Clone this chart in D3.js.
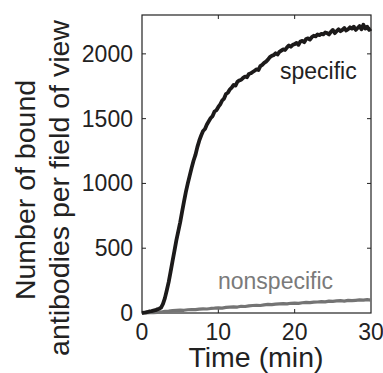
<!DOCTYPE html>
<html>
<head>
<meta charset="utf-8">
<script src="https://cdn.jsdelivr.net/npm/d3@7"></script>
<style>
  body { margin: 0; background: #fff; }
  text { font-family: "Liberation Sans", Arial, sans-serif; }
</style>
</head>
<body>
<script>
// time in minutes, specific curve sampled every 0.25 min
var specTimes = d3.range(0, 30.01, 0.25);
var specific = [
  0, 2, 5, 8, 12, 14, 18, 22, 28, 33, 42, 70,
  115, 175, 240, 320, 400, 480, 560, 630, 700, 780, 860, 935,
  1000, 1060, 1120, 1175, 1220, 1280, 1330, 1370, 1405, 1420, 1455, 1480,
  1505, 1520, 1555, 1565, 1590, 1610, 1640, 1655, 1690, 1700, 1725, 1740,
  1760, 1755, 1785, 1795, 1800, 1815, 1825, 1820, 1845, 1850, 1860, 1870,
  1880, 1875, 1905, 1915, 1930, 1940, 1955, 1975, 1985, 1990, 2005, 1995,
  2015, 2025, 2035, 2030, 2050, 2065, 2055, 2070, 2075, 2085, 2070, 2095,
  2100, 2090, 2115, 2120, 2110, 2130, 2140, 2135, 2150, 2145, 2155, 2150,
  2165, 2160, 2150, 2170, 2185, 2160, 2175, 2190, 2175, 2185, 2200, 2180,
  2190, 2205, 2195, 2210, 2185, 2200, 2215, 2190, 2225, 2195, 2210, 2185,
  2195
];

// nonspecific curve sampled every 0.5 min
var nonTimes = d3.range(0, 30.01, 0.5);
var nonspecific = [
  0, 1, 2, 3, 5, 8, 12, 14, 18, 20, 22, 21, 25, 27, 26, 30,
  32, 31, 35, 37, 40, 38, 43, 45, 47, 46, 52, 50, 55, 58, 60, 58,
  63, 66, 64, 68, 70, 72, 70, 75, 76, 74, 79, 82, 80, 84, 85, 88,
  86, 92, 90, 93, 95, 92, 97, 95, 98, 101, 99, 103, 100
];

var xTicks = [0, 10, 20, 30];
var yTicks = [0, 500, 1000, 1500, 2000];

var svgW = 383, svgH = 373;
var plotL = 142, plotR = 371, plotT = 15, plotB = 313;

var svg = d3.select('body').append('svg')
  .attr('width', svgW)
  .attr('height', svgH);

var x = d3.scaleLinear().domain([0, 30]).range([plotL, plotR]);
var y = d3.scaleLinear().domain([0, 2300]).range([plotB, plotT]);

// box
svg.append('rect')
  .attr('x', plotL).attr('y', plotT)
  .attr('width', plotR - plotL).attr('height', plotB - plotT)
  .attr('fill', 'none').attr('stroke', '#222').attr('stroke-width', 1.2);

// ticks inside on all four sides
var tickLen = 4;
svg.append('g').selectAll('line').data(xTicks.slice(1, -1)).enter().append('line')
  .attr('x1', d => x(d)).attr('x2', d => x(d))
  .attr('y1', plotB).attr('y2', plotB - tickLen)
  .attr('stroke', '#222');
svg.append('g').selectAll('line').data(xTicks.slice(1, -1)).enter().append('line')
  .attr('x1', d => x(d)).attr('x2', d => x(d))
  .attr('y1', plotT).attr('y2', plotT + tickLen)
  .attr('stroke', '#222');
svg.append('g').selectAll('line').data(yTicks.slice(1)).enter().append('line')
  .attr('x1', plotL).attr('x2', plotL + tickLen)
  .attr('y1', d => y(d)).attr('y2', d => y(d))
  .attr('stroke', '#222');
svg.append('g').selectAll('line').data(yTicks.slice(1)).enter().append('line')
  .attr('x1', plotR).attr('x2', plotR - tickLen)
  .attr('y1', d => y(d)).attr('y2', d => y(d))
  .attr('stroke', '#222');

// tick labels
svg.append('g').selectAll('text').data(xTicks).enter().append('text')
  .attr('x', d => x(d)).attr('y', 340)
  .attr('text-anchor', 'middle')
  .attr('font-size', '23px').attr('fill', '#222')
  .text(d => d);
svg.append('g').selectAll('text').data(yTicks).enter().append('text')
  .attr('x', 133).attr('y', d => y(d) + 8)
  .attr('text-anchor', 'end')
  .attr('font-size', '23px').attr('fill', '#222')
  .text(d => d);

// axis titles
svg.append('text')
  .attr('x', 256).attr('y', 367)
  .attr('text-anchor', 'middle')
  .attr('font-size', '28.5px').attr('fill', '#222')
  .text('Time (min)');

svg.append('text')
  .attr('transform', 'translate(35,190) rotate(-90)')
  .attr('text-anchor', 'middle')
  .attr('font-size', '28.5px').attr('fill', '#222')
  .text('Number of bound');
svg.append('text')
  .attr('transform', 'translate(69,188) rotate(-90)')
  .attr('text-anchor', 'middle')
  .attr('font-size', '28.5px').attr('fill', '#222')
  .text('antibodies per field of view');

// curves
var line = d3.line()
  .x(d => x(d[0]))
  .y(d => y(d[1]));

svg.append('path')
  .datum(d3.zip(nonTimes, nonspecific))
  .attr('d', line)
  .attr('fill', 'none')
  .attr('stroke', '#747474')
  .attr('stroke-width', 3.2)
  .attr('stroke-linejoin', 'round');

svg.append('path')
  .datum(d3.zip(specTimes, specific))
  .attr('d', line)
  .attr('fill', 'none')
  .attr('stroke', '#1c1a1a')
  .attr('stroke-width', 3.8)
  .attr('stroke-linejoin', 'round');

// curve labels
svg.append('text')
  .attr('x', 280).attr('y', 79)
  .attr('font-size', '23px').attr('fill', '#222')
  .text('specific');
svg.append('text')
  .attr('x', 218).attr('y', 289)
  .attr('font-size', '23px').attr('fill', '#7a7a7a')
  .text('nonspecific');
</script>
</body>
</html>
